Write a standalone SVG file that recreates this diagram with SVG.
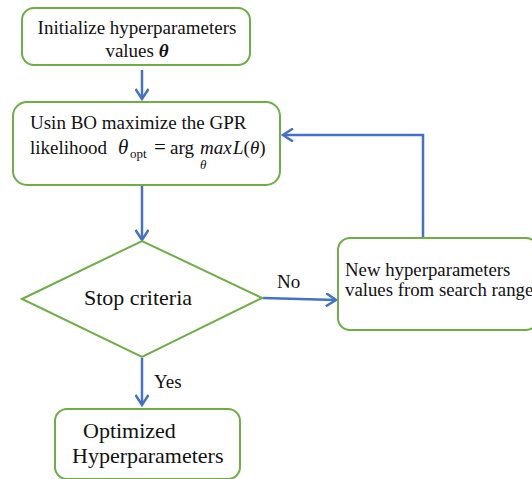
<svg xmlns="http://www.w3.org/2000/svg" width="532" height="479" viewBox="0 0 532 479">
<style>
.box{fill:#fff;stroke:#70AD47;stroke-width:2}
.con{fill:none;stroke:#4472C4;stroke-width:2.5}
text{font-family:"Liberation Serif","Times New Roman",serif;fill:#111}
.t17{font-size:19px}
.t16{font-size:18.8px}
.t20{font-size:22px}
.it{font-style:italic}
</style>
<defs>
<marker id="ah" markerWidth="14" markerHeight="14" refX="11" refY="7" orient="auto" markerUnits="userSpaceOnUse">
<path d="M1,0.5 L11,7 L1,13.5" fill="none" stroke="#4472C4" stroke-width="2.5"/>
</marker>
</defs>
<rect width="532" height="479" fill="#fff"/>
<g id="connectors">
<path class="con" d="M142,70 V99" marker-end="url(#ah)"/>
<path class="con" d="M142,186 V240" marker-end="url(#ah)"/>
<path class="con" d="M263,298 L336,300" marker-end="url(#ah)"/>
<path class="con" d="M423,237 V135 H283" marker-end="url(#ah)"/>
<path class="con" d="M142,358 V405" marker-end="url(#ah)"/>
<text x="277" y="288" class="t17">No</text>
<text x="154" y="388" class="t17">Yes</text>
</g>
<g id="init">
<rect class="box" x="22" y="8" width="228" height="57" rx="12"/>
<text x="137" y="34" class="t17" text-anchor="middle">Initialize hyperparameters</text>
<text x="137" y="57" class="t17" text-anchor="middle">values <tspan class="it" font-weight="bold">θ</tspan></text>
</g>
<g id="bo">
<rect class="box" x="13" y="102" width="267" height="83" rx="14"/>
<text x="30" y="129" class="t17">Usin BO maximize the GPR</text>
<text x="30" y="154" class="t17">likelihood</text>
<text x="118" y="154" font-size="21" class="it">θ</text>
<text x="130" y="158" font-size="13">opt</text>
<text x="154" y="154" font-size="21">=</text>
<text x="170" y="154" class="t17">arg</text>
<text x="200" y="154" class="t17 it">max</text>
<text x="233" y="154" class="t17"><tspan class="it">L</tspan>(<tspan class="it">θ</tspan>)</text>
<text x="200" y="169" font-size="13" class="it">θ</text>
</g>
<g id="stop">
<polygon class="box" points="22,299 142,241 262,298 142,357"/>
<text x="138" y="305" class="t20" text-anchor="middle">Stop criteria</text>
</g>
<g id="newhp">
<rect class="box" x="338" y="238" width="200" height="92" rx="12"/>
<text x="345" y="276" class="t16">New hyperparameters</text>
<text x="345" y="296" class="t16">values from search range</text>
</g>
<g id="opt">
<rect class="box" x="55" y="409" width="185" height="70" rx="12"/>
<text x="83" y="438" class="t20">Optimized</text>
<text x="72" y="463" class="t20">Hyperparameters</text>
</g>
</svg>
